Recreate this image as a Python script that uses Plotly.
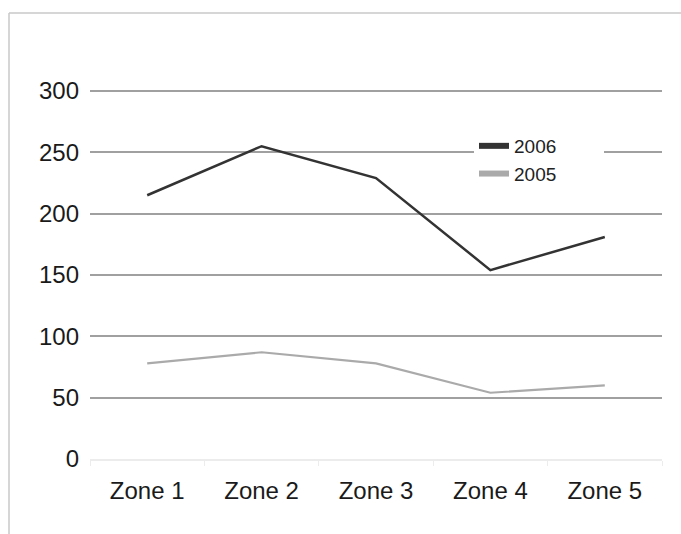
import plotly.graph_objects as go

zones = ["Zone 1", "Zone 2", "Zone 3", "Zone 4", "Zone 5"]
values_2006 = [215, 255, 229, 154, 181]
values_2005 = [78, 87, 78, 54, 60]
y_ticks = [0, 50, 100, 150, 200, 250, 300]

FONT = "Liberation Sans, Arial, Helvetica, sans-serif"
C2006 = "#333333"
C2005 = "#aaaaaa"

fig = go.Figure()
fig.add_trace(go.Scatter(x=zones, y=values_2006, mode="lines", name="2006",
                         line=dict(color=C2006, width=2.5), showlegend=False))
fig.add_trace(go.Scatter(x=zones, y=values_2005, mode="lines", name="2005",
                         line=dict(color=C2005, width=2.2), showlegend=False))
# legend entries (filled rectangular swatches)
fig.add_trace(go.Scatter(x=[None], y=[None], mode="none", name="2006        ",
                         fill="toself", fillcolor=C2006, legendgroup="a"))
fig.add_trace(go.Scatter(x=[None], y=[None], mode="none", name="2005        ",
                         fill="toself", fillcolor=C2005, legendgroup="b"))

L, R, T, B = 90, 19, 87, 75
W, H = 681, 534
pw, ph = W - L - R, H - T - B
YTOP = 300 + 4 / 1.224
def px(x): return (x - L) / pw
def py(y): return (H - B - y) / ph

fig.add_shape(type="line", xref="paper", yref="paper",
              x0=px(9), x1=px(W + 5), y0=py(13), y1=py(13),
              line=dict(color="#c8c8c8", width=1.5), layer="below")
fig.add_shape(type="line", xref="paper", yref="paper",
              x0=px(9), x1=px(9), y0=py(13), y1=py(H + 5),
              line=dict(color="#c8c8c8", width=1.5), layer="below")

fig.update_layout(
    width=W, height=H,
    margin=dict(l=L, r=R, t=T, b=B, pad=0, autoexpand=False),
    paper_bgcolor="white", plot_bgcolor="white",
    font=dict(family=FONT, size=24, color="#1a1a1a"),
    showlegend=True,
    legend=dict(x=px(474), y=py(127), xanchor="left", yanchor="top",
                bgcolor="white", font=dict(size=19, color="#222222"),
                itemwidth=30, traceorder="grouped", tracegroupgap=0,
                borderwidth=0),
    xaxis=dict(type="category", range=[-0.5, 4.5], showgrid=False,
               showline=True, linecolor="#ececec", linewidth=1.5,
               ticks="outside", tickson="boundaries", ticklen=5,
               tickcolor="#ececec", tickfont=dict(size=24), zeroline=False,
               ticklabelstandoff=9, fixedrange=True),
    yaxis=dict(range=[0, YTOP], tickvals=y_ticks, showgrid=True,
               gridcolor="#a0a0a0", gridwidth=2, zeroline=False,
               showline=False, ticks="", ticklabelstandoff=10,
               tickfont=dict(size=24), fixedrange=True),
)

fig.write_html("out.html", config={"displayModeBar": False},
               post_script="document.body.style.margin='0';document.body.style.overflow='hidden';")
